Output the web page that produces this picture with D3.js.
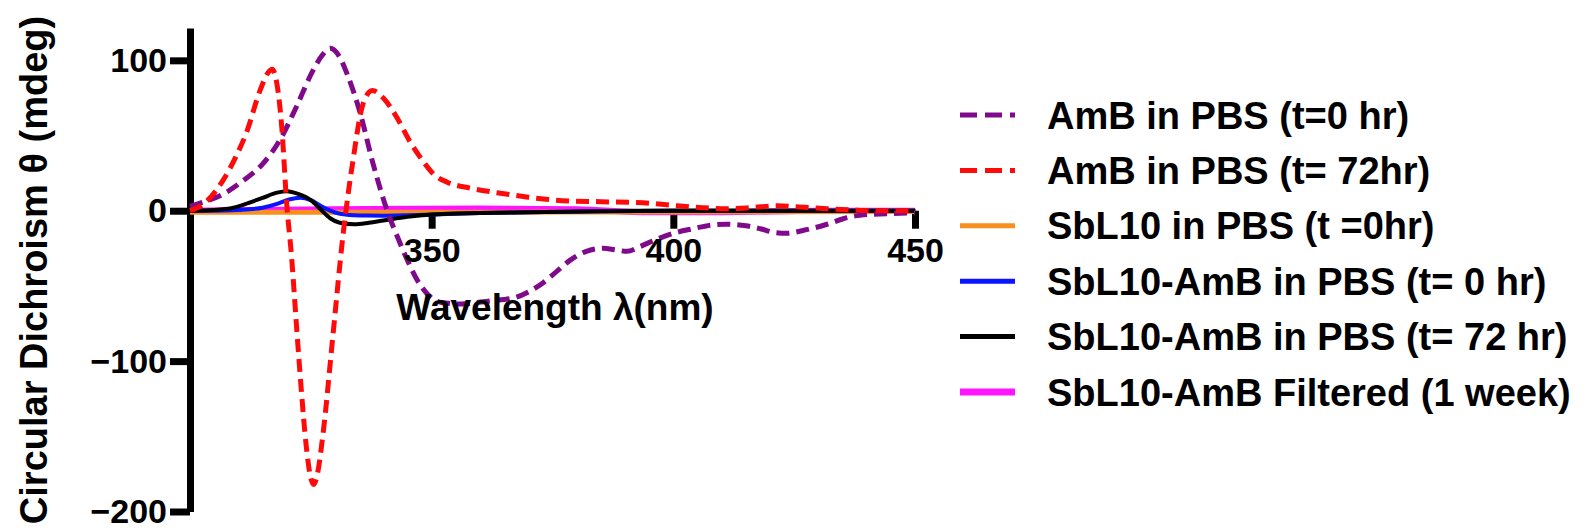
<!DOCTYPE html>
<html>
<head>
<meta charset="utf-8">
<script src="https://cdn.jsdelivr.net/npm/d3@7"></script>
<style>
  html, body { margin: 0; padding: 0; background: #ffffff; }
  svg { display: block; }
  text { font-family: "Liberation Sans", Arial, Helvetica, sans-serif; font-weight: bold; fill: #000; }
</style>
</head>
<body>
<svg id="chart" width="1593" height="531"></svg>
<script>
// Axis ticks
const wavelengthTicks = [350, 400, 450];
const cdTicks = [-200, -100, 0, 100];

// CD spectra: [wavelength (nm), ellipticity (mdeg)]
const ambPbs0h = [[300,3],[303,6],[306.8,11],[311,20],[315,31],[318.6,47],[322,69],[325.4,93],[327.5,104],[329,108],[331,102],[332.5,91],[335.2,65],[337.9,31],[340.8,0],[343,-18],[345,-33],[347,-46],[349,-55],[352,-61],[356,-62],[362,-60],[367,-58],[370,-54],[373,-48],[376,-40],[378.6,-33],[382,-27],[385.5,-25],[388,-26],[390.4,-27],[393,-24],[395.8,-20],[400,-15],[404,-12],[408,-9.5],[411,-9],[415,-10],[418,-12],[421,-14.5],[423.5,-15],[427,-13],[431.8,-9],[435,-5.5],[438.6,-3],[444,-2],[450,-1.5]];

const ambPbs72h = [[300,0],[303,5],[306.8,20],[309.5,36],[311.8,53],[314.5,80],[316.2,92],[317,94],[318,84],[319,55],[320,5],[321,-30],[322,-75],[323,-118],[324,-155],[325,-178],[325.6,-182],[326.3,-176],[327.5,-149],[329.6,-82],[331.7,-15],[333.7,33],[335.8,71],[337.7,80],[340,75],[342.8,62],[345.5,46],[348.2,33],[350.5,24],[353.2,19],[358,15],[363.5,12],[370,9],[377,6.7],[385,6],[393.7,5.3],[400.8,3.3],[406,2],[411,1.3],[416,2],[421.5,3.3],[426,2.5],[431.8,1.3],[437,0.5],[442,0],[450,0]];

const sbl10Pbs0h = [[300,-1],[350,-1],[400,-0.8],[450,-0.5]];

const sbl10AmbPbs0h = [[300,0],[305,0],[310,0.5],[315,2],[318,4.5],[320.5,7.5],[322.8,8.7],[325,7],[327,3.3],[329,0],[331,-2],[335,-3.2],[340,-3.3],[345,-3],[350,-2.5],[360,-1.5],[370,-1],[385,-0.3],[400,0],[450,0]];

const sbl10AmbPbs72h = [[300,0],[305,0.5],[309,2],[312,5],[315,8.5],[318,12],[320,13],[322.5,11],[325,7],[327,1],[329,-5],[331,-8],[334,-9],[337,-8],[340,-6.5],[345,-4],[350,-2.5],[360,-1.5],[370,-1],[385,-0.3],[400,0],[450,0]];

const sbl10AmbFiltered = [[300,0],[330,1],[360,1.5],[380,1],[395,-1],[410,-1],[430,0],[450,0]];

const seriesLabels = [
  "AmB in PBS (t=0 hr)",
  "AmB in PBS (t= 72hr)",
  "SbL10 in PBS (t =0hr)",
  "SbL10-AmB in PBS (t= 0 hr)",
  "SbL10-AmB in PBS (t= 72 hr)",
  "SbL10-AmB Filtered (1 week)"
];

// Series styling, in legend order
const series = [
  { label: seriesLabels[0], data: ambPbs0h,        color: "#800a8c", width: 5, dash: "13,7" },
  { label: seriesLabels[1], data: ambPbs72h,       color: "#ff0a0a", width: 5, dash: "13,7" },
  { label: seriesLabels[2], data: sbl10Pbs0h,      color: "#f7901e", width: 5, dash: null },
  { label: seriesLabels[3], data: sbl10AmbPbs0h,   color: "#0a14ff", width: 4, dash: null },
  { label: seriesLabels[4], data: sbl10AmbPbs72h,  color: "#000000", width: 4, dash: null },
  { label: seriesLabels[5], data: sbl10AmbFiltered,color: "#ff14ff", width: 6, dash: null }
];

const svg = d3.select("#chart");

const x = d3.scaleLinear().domain([300, 450]).range([190, 915]);
const y = d3.scaleLinear().domain([-200, 121.5]).range([511.5, 28]);

// Axis lines and tick marks (labels are added on top of the data later)
const xAxisLines = svg.append("g")
  .attr("transform", `translate(0,${y(0)})`)
  .call(d3.axisBottom(x).tickValues(wavelengthTicks).tickSize(18).tickSizeOuter(0).tickFormat(""));
xAxisLines.select(".domain").attr("stroke", "#000").attr("stroke-width", 5);
xAxisLines.selectAll(".tick line").attr("stroke", "#000").attr("stroke-width", 7);

const yAxisLines = svg.append("g")
  .attr("transform", `translate(${x(300)},0)`)
  .call(d3.axisLeft(y).tickValues(cdTicks).tickSize(20).tickSizeOuter(0).tickFormat(""));
yAxisLines.select(".domain").attr("stroke", "#000").attr("stroke-width", 7);
yAxisLines.selectAll(".tick line").attr("stroke", "#000").attr("stroke-width", 7);

// Spectra
const line = d3.line()
  .x(d => x(d[0]))
  .y(d => y(d[1]))
  .curve(d3.curveMonotoneX);

const drawOrder = [5, 2, 3, 4, 0, 1];
svg.append("g").selectAll("path")
  .data(drawOrder.map(i => series[i]))
  .join("path")
  .attr("d", d => line(d.data))
  .attr("fill", "none")
  .attr("stroke", d => d.color)
  .attr("stroke-width", d => d.width)
  .attr("stroke-dasharray", d => d.dash)
  .attr("stroke-linejoin", "round");

// Tick labels
const xLabels = svg.append("g")
  .attr("transform", `translate(0,${y(0)})`)
  .call(d3.axisBottom(x).tickValues(wavelengthTicks).tickSize(18).tickPadding(9).tickSizeOuter(0));
xLabels.select(".domain").remove();
xLabels.selectAll(".tick line").remove();
xLabels.selectAll("text").attr("font-size", 34).attr("font-family", null).attr("fill", "#000");

const yLabels = svg.append("g")
  .attr("transform", `translate(${x(300)},0)`)
  .call(d3.axisLeft(y).tickValues(cdTicks).tickSize(20).tickPadding(3).tickSizeOuter(0));
yLabels.select(".domain").remove();
yLabels.selectAll(".tick line").remove();
yLabels.selectAll("text").attr("font-size", 34).attr("font-family", null).attr("fill", "#000");

// Axis titles
svg.append("text")
  .attr("x", 555)
  .attr("y", 320)
  .attr("text-anchor", "middle")
  .attr("font-size", 37)
  .text("Wavelength \u03bb(nm)");

svg.append("text")
  .attr("transform", "translate(47,270) rotate(-90)")
  .attr("text-anchor", "middle")
  .attr("font-size", 38)
  .text("Circular Dichroism \u03b8 (mdeg)");

// Legend
const legend = svg.append("g");
const rowY = i => 115 + i * 55.4;
const rows = legend.selectAll("g")
  .data(series)
  .join("g")
  .attr("transform", (d, i) => `translate(0,${rowY(i)})`);

rows.append("line")
  .attr("x1", 960).attr("x2", 1015)
  .attr("y1", 0).attr("y2", 0)
  .attr("stroke", d => d.color)
  .attr("stroke-width", d => d.label === seriesLabels[5] ? 7 : 5)
  .attr("stroke-dasharray", d => d.dash ? "17,8" : null);

rows.append("text")
  .attr("x", 1047)
  .attr("y", 0)
  .attr("dy", "0.36em")
  .attr("font-size", 38)
  .text(d => d.label);
</script>
</body>
</html>
